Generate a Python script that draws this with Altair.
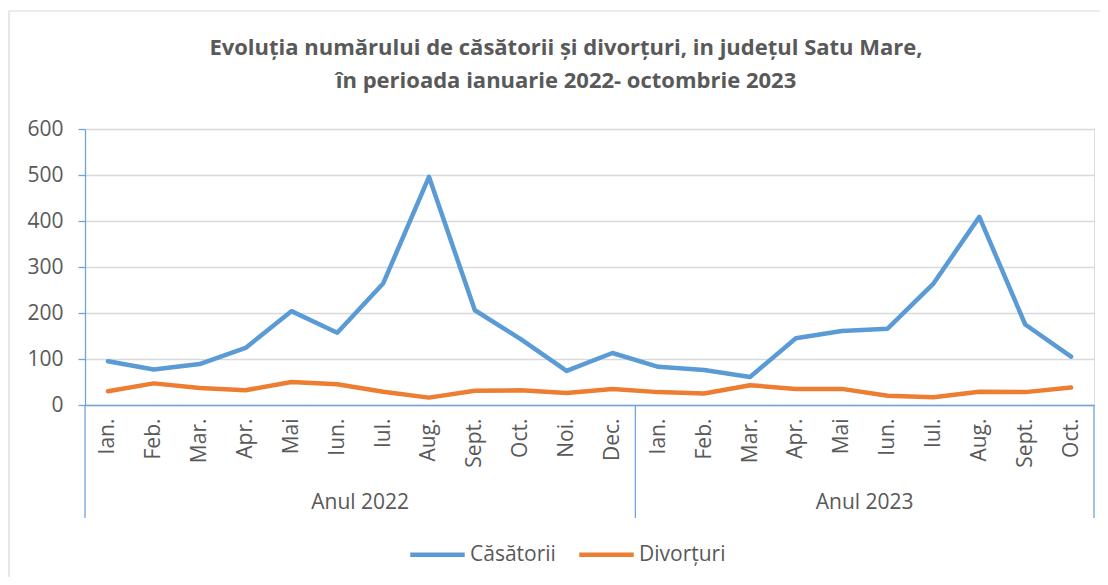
import altair as alt
import pandas as pd

months_2022 = ["Ian.", "Feb.", "Mar.", "Apr.", "Mai", "Iun.", "Iul.", "Aug.", "Sept.", "Oct.", "Noi.", "Dec."]
months_2023 = ["Ian.", "Feb.", "Mar.", "Apr.", "Mai", "Iun.", "Iul.", "Aug.", "Sept.", "Oct."]
years = ["Anul 2022", "Anul 2023"]
series_names = ["Căsătorii", "Divorțuri"]

casatorii = [95, 77, 89, 124, 204, 157, 264, 496, 206, 143, 74, 113,
             83, 76, 61, 145, 161, 166, 264, 409, 175, 105]
divorturi = [30, 47, 37, 32, 50, 45, 29, 16, 31, 32, 26, 35,
             28, 25, 43, 35, 35, 20, 17, 29, 28, 38]
y_ticks = [0, 100, 200, 300, 400, 500, 600]

title_lines = ["Evoluția numărului de căsătorii și divorțuri, in județul Satu Mare,",
               "în perioada ianuarie 2022- octombrie 2023"]

BLUE = "#5B9BD5"
ORANGE = "#ED7D31"
GRAY_TXT = "#595959"
AXIS_BLUE = "#6FA3D9"
FONT = "Open Sans"

month_labels = months_2022 + months_2023
n = len(month_labels)

rows = []
for i in range(n):
    rows.append({"idx": i, "serie": series_names[0], "val": casatorii[i]})
    rows.append({"idx": i, "serie": series_names[1], "val": divorturi[i]})
df = pd.DataFrame(rows)

b0 = -0.5
b1 = len(months_2022) - 0.5
b2 = n - 0.5
bounds_df = pd.DataFrame({"b": [b0, b1, b2]})
groups_df = pd.DataFrame({"label": years, "mid": [(b0 + b1) / 2, (b1 + b2) / 2]})

W, H = 1009, 276
xscale = alt.Scale(domain=[b0, b2], nice=False, zero=False)
label_expr = "[" + ",".join("'" + m + "'" for m in month_labels) + "][datum.value]"

frame = alt.Chart(pd.DataFrame({"f": [0]})).mark_rect(
    fill=None, stroke="#D9D9D9", strokeWidth=1.2
).encode(x=alt.value(-76), x2=alt.value(1300), y=alt.value(-118), y2=alt.value(700))

title_layers = []
for k, line in enumerate(title_lines):
    title_layers.append(
        alt.Chart(pd.DataFrame({"t": [line]})).mark_text(
            fontSize=22, font=FONT, fontWeight="bold", color=GRAY_TXT,
            align="center", baseline="middle"
        ).encode(x=alt.value(481), y=alt.value(-81 + 33 * k), text="t:N")
    )

lines = alt.Chart(df).mark_line(strokeWidth=4.5, strokeCap="round", strokeJoin="round").encode(
    x=alt.X("idx:Q", scale=xscale,
            axis=alt.Axis(title=None, values=list(range(n)), labelExpr=label_expr,
                          labelAngle=270, labelFontSize=21, labelFont=FONT, labelColor=GRAY_TXT,
                          labelPadding=13, ticks=False, grid=False, domainColor=AXIS_BLUE,
                          domainWidth=1.3, labelOverlap=False, labelFlush=False, labelBound=False)),
    y=alt.Y("val:Q", scale=alt.Scale(domain=[0, 600], nice=False),
            axis=alt.Axis(title=None, values=y_ticks, labelFontSize=21, labelFont=FONT,
                          labelColor=GRAY_TXT, labelPadding=15, tickSize=7, tickColor=AXIS_BLUE,
                          tickWidth=1.3, domainColor=AXIS_BLUE, domainWidth=1.3,
                          gridColor="#D9D9D9", gridWidth=1.3)),
    color=alt.Color("serie:N", scale=alt.Scale(domain=series_names, range=[BLUE, ORANGE]),
                    legend=alt.Legend(title=None, orient="none", legendX=323, legendY=396,
                                      direction="horizontal", symbolType="stroke",
                                      symbolSize=2970, symbolStrokeWidth=4.5,
                                      labelFontSize=21, labelFont=FONT, labelColor=GRAY_TXT,
                                      labelOffset=3, columnPadding=14, padding=0)),
)

seps = alt.Chart(bounds_df).mark_rule(color=AXIS_BLUE, strokeWidth=1.3).encode(
    x=alt.X("b:Q", scale=xscale),
    y=alt.value(H), y2=alt.value(H + 113),
)

glabels = alt.Chart(groups_df).mark_text(
    fontSize=21, font=FONT, color=GRAY_TXT, baseline="middle", align="center"
).encode(
    x=alt.X("mid:Q", scale=xscale),
    y=alt.value(H + 98),
    text="label:N",
)

chart = alt.layer(frame, *title_layers, lines, seps, glabels).properties(
    width=W, height=H,
    autosize=alt.AutoSizeParams(type="none"),
    padding={"left": 77, "top": 121, "right": 6, "bottom": 172},
).configure_view(stroke=None).configure(background="white")

chart.save("out.html", embed_options={"renderer": "svg", "actions": False})
